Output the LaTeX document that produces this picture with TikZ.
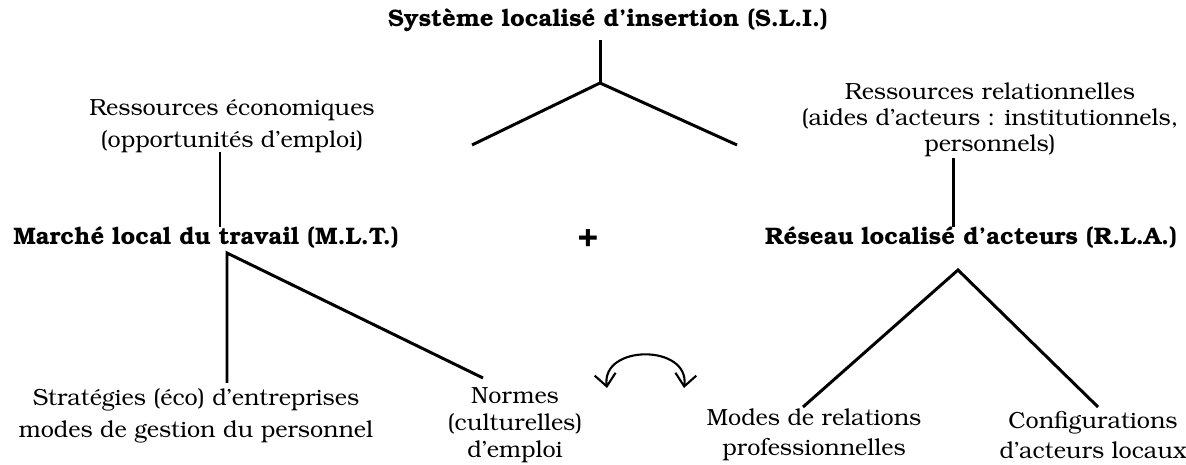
\documentclass[tikz,border=0pt]{standalone}
\usepackage[T1]{fontenc}
\usepackage{bookman}
\usetikzlibrary{arrows.meta}
\tikzset{titre/.style={font=\bfseries\fontsize{13.6}{16}\selectfont,inner sep=0pt}}
\tikzset{texte/.style={font=\fontsize{13.3}{#1}\selectfont,align=center,inner sep=0pt},texte/.default=17}
\tikzset{trait/.style={line width=1.7pt}}
\tikzset{fleche/.style={line width=1.2pt,{Straight Barb[length=7pt,width=12pt]}-{Straight Barb[length=7pt,width=12pt]}}}

\begin{document}
\begin{tikzpicture}[x=0.02cm,y=-0.02cm]
	\useasboundingbox (0,0) rectangle (1186,465);
	\node[titre] (sli) at (608,20) {Système localisé d'insertion (S.L.I.)};
	\node[texte=18] (eco) at (232,126) {Ressources économiques\\(opportunités d'emploi)};
	\node[texte=15] (rel) at (990,120) {Ressources relationnelles\\(aides d'acteurs : institutionnels,\\personnels)};
	\node[titre] (mlt) at (206,237) {Marché local du travail (M.L.T.)};
	\node[titre,font=\bfseries\fontsize{20}{20}\selectfont] (plus) at (588,242) {+};
	\node[titre] (rla) at (971,237) {Réseau localisé d'acteurs (R.L.A.)};
	\node[texte=18] (strat) at (196,416) {Stratégies (éco) d'entreprises\\modes de gestion du personnel};
	\node[texte=15.6] (normes) at (515,425) {Normes\\(culturelles)\\d'emploi};
	\node[texte] (modes) at (814,435) {Modes de relations\\professionnelles};
	\node[texte] (config) at (1093,435) {Configurations\\d'acteurs locaux};

	\coordinate (sliB) at (600,40);
	\coordinate (br) at (600,83);
	\coordinate (brL) at (472,145);
	\coordinate (brR) at (737,145);
	\coordinate (ecoB) at (220,152);
	\coordinate (ecoE) at (220,227);
	\coordinate (relB) at (953,158);
	\coordinate (relE) at (953,227);
	\coordinate (mltA) at (227,253);
	\coordinate (mltV) at (227,383);
	\coordinate (mltD) at (483,378);
	\coordinate (rlaA) at (958,270);
	\coordinate (rlaL) at (803,407);
	\coordinate (rlaR) at (1098,407);
	\coordinate (arL) at (607,388);
	\coordinate (arR) at (684,388);

	\draw[trait] (sliB) -- (br);
	\draw[trait] (brL) -- (br) -- (brR);
	\draw[trait] (ecoB) -- (ecoE);
	\draw[trait] (relB) -- (relE);
	\draw[trait] (mltV) -- (mltA) -- (mltD);
	\draw[trait] (rlaL) -- (rlaA) -- (rlaR);
	%\draw[trait] (normes) -- (modes);
	\draw[fleche] (arL) .. controls +(-6,-44) and +(6,-44) .. (arR);
\end{tikzpicture}
\end{document}
